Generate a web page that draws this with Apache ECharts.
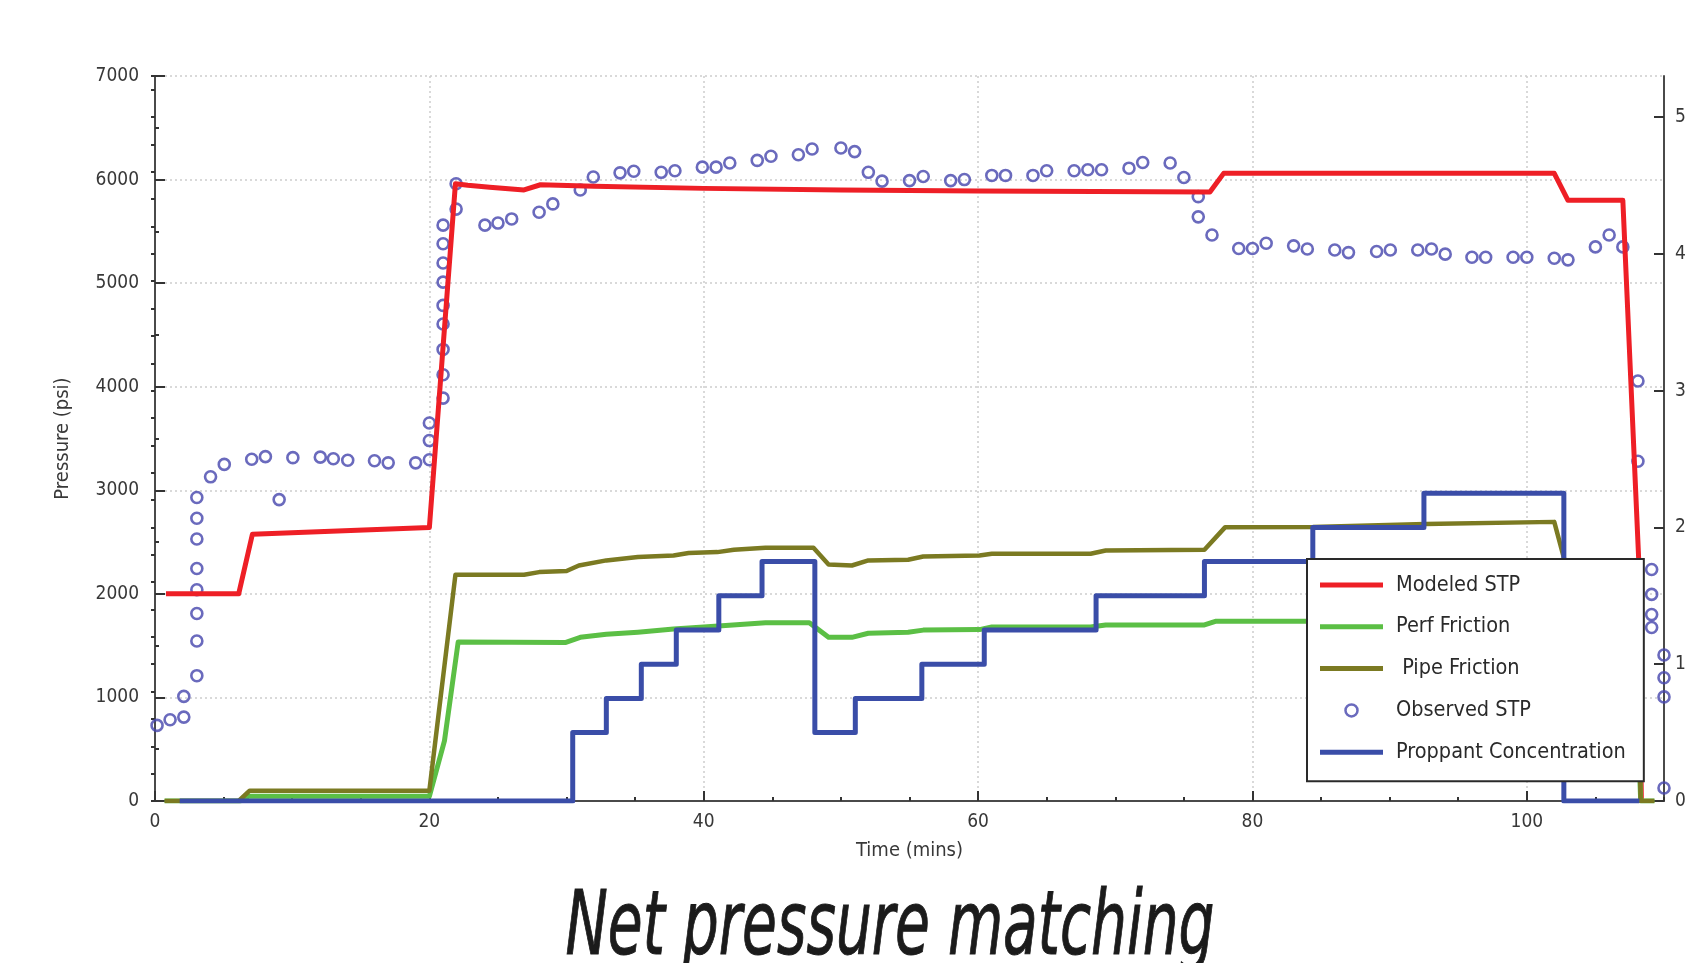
<!DOCTYPE html>
<html>
<head>
<meta charset="utf-8">
<title>Net pressure matching</title>
<script src="https://cdn.jsdelivr.net/npm/echarts@6/dist/echarts.min.js"></script>
<style>
  html, body { margin: 0; padding: 0; background: #ffffff; }
  #chart { width: 1690px; height: 963px; }
</style>
</head>
<body>
<div id="chart"></div>
<script>
// ---- Data -----------------------------------------------------------------
// Modeled surface treating pressure (psi) vs time (mins)
const modeledTime = [0.8, 6.1, 7.1, 20.0, 21.9, 22.8, 24.4, 26.9, 28.1, 32.0, 40.0, 50.0, 60.0, 76.9, 77.9, 102.0, 103.0, 107.0, 108.15, 108.35];
const modeledPsi  = [2000, 2000, 2575, 2640, 5960, 5945, 5925, 5900, 5950, 5935, 5915, 5900, 5890, 5880, 6060, 6060, 5800, 5800, 2350, 0];

// Perforation friction (psi)
const perfTime = [0.7, 6.2, 6.8, 20.0, 21.1, 22.1, 29.9, 31.0, 32.9, 35.2, 37.8, 40.0, 41.6, 44.5, 47.7, 49.1, 50.8, 52.0, 54.9, 56.0, 60.1, 61.0, 68.2, 69.3, 76.5, 77.3, 102.2, 103.0, 107.9, 108.3, 109.3];
const perfPsi  = [0, 0, 45, 45, 580, 1535, 1530, 1580, 1610, 1630, 1660, 1680, 1695, 1720, 1720, 1580, 1580, 1620, 1630, 1650, 1655, 1680, 1680, 1700, 1700, 1735, 1735, 1450, 1450, 0, 0];

// Pipe friction (psi)
const pipeTime = [0.7, 6.1, 6.9, 20.0, 21.9, 26.9, 28.0, 30.0, 30.9, 32.9, 35.2, 37.8, 38.9, 41.0, 42.2, 44.5, 48.0, 49.1, 50.8, 52.0, 54.9, 56.0, 60.1, 61.0, 68.2, 69.3, 76.5, 78.0, 84.4, 92.6, 102.0, 103.0, 107.9, 108.3, 109.3];
const pipePsi  = [0, 0, 100, 100, 2185, 2185, 2210, 2220, 2274, 2323, 2355, 2371, 2394, 2403, 2426, 2445, 2445, 2284, 2274, 2323, 2329, 2361, 2371, 2387, 2387, 2419, 2425, 2642, 2645, 2674, 2695, 2200, 2200, 0, 0];

// Observed surface treating pressure (psi)
const observedTime = [
  0.15, 1.1, 2.1, 2.1, 3.05, 3.05, 3.05, 3.05, 3.05, 3.05, 3.05, 3.05, 4.05, 5.05, 7.05, 8.05, 9.05, 10.05, 12.05, 13.0,
  14.05, 16.0, 17.0, 19.0, 20.0, 20.0, 20.0, 21.0, 21.0, 21.0, 21.0, 21.0, 21.0, 21.0, 21.0, 21.0, 21.95, 21.95,
  24.05, 25.0, 26.0, 28.0, 29.0, 31.0, 31.95, 33.9, 34.9, 36.9, 37.9, 39.9, 40.9, 41.9, 43.9, 44.9, 46.9, 47.9,
  50.0, 51.0, 52.0, 53.0, 55.0, 56.0, 58.0, 59.0, 61.0, 62.0, 64.0, 65.0, 67.0, 68.0, 69.0, 71.0, 72.0, 74.0,
  75.0, 76.05, 76.05, 77.05, 79.0, 80.0, 81.0, 83.0, 84.0, 86.0, 87.0, 89.05, 90.05, 92.05, 93.05, 94.05, 96.0, 97.0,
  99.0, 100.0, 102.0, 103.0, 105.0, 106.0, 107.0, 108.1, 108.1, 109.1, 109.1, 109.1, 109.1, 110.0, 110.0, 110.0, 110.0
];
const observedPsi = [
  730, 785, 810, 1010, 1210, 1545, 1810, 2040, 2245, 2530, 2730, 2930, 3130, 3250, 3300, 3325, 2910, 3315, 3320, 3305,
  3290, 3285, 3265, 3265, 3295, 3480, 3650, 3890, 4115, 4360, 4605, 4785, 5010, 5195, 5380, 5560, 5715, 5960,
  5560, 5580, 5620, 5685, 5765, 5900, 6025, 6065, 6080, 6070, 6085, 6120, 6120, 6160, 6185, 6225, 6240, 6295,
  6305, 6270, 6070, 5985, 5990, 6030, 5990, 6000, 6040, 6040, 6040, 6085, 6085, 6095, 6095, 6110, 6165, 6160,
  6020, 5835, 5640, 5465, 5335, 5335, 5385, 5360, 5330, 5320, 5295, 5305, 5320, 5320, 5330, 5280, 5250, 5250,
  5250, 5250, 5240, 5225, 5350, 5465, 5350, 4055, 3280, 2235, 1995, 1800, 1675, 1410, 1190, 1005, 125
];

// Proppant concentration (right axis): each value holds from its time to the next
const proppantTime = [1.8, 30.45, 32.9, 35.45, 38.0, 41.1, 44.25, 48.1, 51.05, 55.9, 60.45, 68.6, 76.5, 84.4, 92.5, 102.7, 108.2];
const proppantConc = [0, 0.5, 0.75, 1.0, 1.25, 1.5, 1.75, 0.5, 0.75, 1.0, 1.25, 1.5, 1.75, 2.0, 2.25, 0, 0];

// Axis ranges and labels
const timeRange = [0, 110];
const pressureRange = [0, 7000];
const concRange = [0, 5.3];
const seriesNames = ['Modeled STP', 'Perf Friction', ' Pipe Friction', 'Observed STP', 'Proppant Concentration'];
const xAxisName = 'Time (mins)';
const yAxisName = 'Pressure (psi)';
const titleText = 'Net pressure matching';

// ---- Styling ----------------------------------------------------------------
const FONT = '"DejaVu Sans Condensed", "DejaVu Sans", sans-serif';
const RED = '#ee1f26';
const GREEN = '#5bbf45';
const OLIVE = '#7b7a22';
const BLUE = '#3a4da8';
const RING = '#4545ac';
const AXIS = '#4a4a4a';
const LABEL = '#383838';
const GRIDLINE = { color: '#cdcdcd', width: 1.5, type: [2, 3] };
const BAR = 'path://M0,0L63,0L63,5L0,5Z';

const zip = (xs, ys) => xs.map((x, i) => [x, ys[i]]);
const plain = (v) => String(v);

// Fit the caption to its width with a horizontal squeeze
const TITLE_SIZE = 89;
const titleFont = 'italic ' + TITLE_SIZE + 'px "DejaVu Sans Condensed"';
const measureCtx = document.createElement('canvas').getContext('2d');
measureCtx.font = titleFont;
const titleScale = 649 / measureCtx.measureText(titleText).width;

const chart = echarts.init(document.getElementById('chart'), null, { renderer: 'canvas' });

const majorTick = { show: true, inside: true, length: 10, lineStyle: { color: '#333', width: 2 } };
const minorTick = { show: true, inside: true, length: 4, lineStyle: { color: '#333', width: 2 } };
const tickLabel = { fontFamily: FONT, fontSize: 19, color: LABEL, formatter: plain };

const option = {
  animation: false,
  backgroundColor: '#ffffff',
  grid: { left: 155, right: 26, top: 76, bottom: 162, containLabel: false, outerBoundsMode: 'none' },
  xAxis: [
    {
      type: 'value', position: 'bottom', min: timeRange[0], max: timeRange[1], interval: 20,
      name: xAxisName, nameLocation: 'middle', nameGap: 40,
      nameTextStyle: { fontFamily: FONT, fontSize: 20, color: LABEL },
      axisLine: { show: true, onZero: false, lineStyle: { color: AXIS, width: 2 } },
      axisTick: majorTick,
      axisLabel: Object.assign({}, tickLabel, { margin: 12, showMaxLabel: false }),
      splitLine: { show: true, lineStyle: GRIDLINE }
    },
    {
      // 5-minute minor ticks
      type: 'value', position: 'bottom', min: timeRange[0], max: timeRange[1], interval: 5,
      axisLine: { show: false }, axisTick: minorTick, axisLabel: { show: false }, splitLine: { show: false }
    }
  ],
  yAxis: [
    {
      type: 'value', position: 'left', min: pressureRange[0], max: pressureRange[1], interval: 1000,
      name: yAxisName, nameLocation: 'middle', nameGap: 82,
      nameTextStyle: { fontFamily: FONT, fontSize: 20, color: LABEL },
      axisLine: { show: true, onZero: false, lineStyle: { color: AXIS, width: 2 } },
      axisTick: majorTick,
      minorTick: { show: true, splitNumber: 2, length: 4, lineStyle: { color: '#333', width: 2 } },
      axisLabel: Object.assign({}, tickLabel, { margin: 16 }),
      splitLine: { show: true, lineStyle: GRIDLINE }
    },
    {
      type: 'value', position: 'right', min: concRange[0], max: concRange[1], interval: 1,
      axisLine: { show: true, onZero: false, lineStyle: { color: AXIS, width: 2 } },
      axisTick: majorTick,
      axisLabel: Object.assign({}, tickLabel, { margin: 11, showMaxLabel: false }),
      splitLine: { show: false }
    },
    {
      // 0.2 minor ticks on the concentration axis
      type: 'value', position: 'right', min: concRange[0], max: concRange[1], interval: 0.2,
      axisLine: { show: false }, axisTick: minorTick, axisLabel: { show: false }, splitLine: { show: false }
    }
  ],
  legend: {
    orient: 'vertical', left: 1307, top: 559,
    backgroundColor: '#ffffff', borderColor: '#2a2a2a', borderWidth: 2, borderRadius: 0,
    padding: [15, 18, 18, 13],
    itemWidth: 63, itemHeight: 12, itemGap: 19.8,
    symbolKeepAspect: true,
    selectedMode: false,
    textStyle: { fontFamily: FONT, fontSize: 21.5, color: '#2a2a2a', lineHeight: 20, padding: [0, 0, 0, 8] },
    itemStyle: { borderWidth: 0 },
    data: [
      { name: seriesNames[0], icon: BAR },
      { name: seriesNames[1], icon: BAR },
      { name: seriesNames[2], icon: BAR },
      { name: seriesNames[3], icon: 'circle', itemStyle: { color: 'rgba(0,0,0,0)', borderColor: RING, borderWidth: 2.5 } },
      { name: seriesNames[4], icon: BAR }
    ]
  },
  graphic: [
    {
      type: 'text', x: 890, y: 931, scaleX: titleScale,
      style: {
        x: 0, y: 0, text: titleText, font: titleFont, fill: '#1b1b1b',
        stroke: '#1b1b1b', lineWidth: 1.0, align: 'center', verticalAlign: 'middle'
      }
    }
  ],
  series: [
    {
      name: seriesNames[0], type: 'line', xAxisIndex: 0, yAxisIndex: 0,
      data: zip(modeledTime, modeledPsi), showSymbol: false, symbol: 'none',
      itemStyle: { color: RED }, lineStyle: { color: RED, width: 5, join: 'round' }
    },
    {
      name: seriesNames[1], type: 'line', xAxisIndex: 0, yAxisIndex: 0,
      data: zip(perfTime, perfPsi), showSymbol: false, symbol: 'none',
      itemStyle: { color: GREEN }, lineStyle: { color: GREEN, width: 5, join: 'round' }
    },
    {
      name: seriesNames[2], type: 'line', xAxisIndex: 0, yAxisIndex: 0,
      data: zip(pipeTime, pipePsi), showSymbol: false, symbol: 'none',
      itemStyle: { color: OLIVE }, lineStyle: { color: OLIVE, width: 4.5, join: 'round' }
    },
    {
      name: seriesNames[3], type: 'scatter', xAxisIndex: 0, yAxisIndex: 0,
      data: zip(observedTime, observedPsi), symbol: 'circle', symbolSize: 11,
      itemStyle: { color: 'rgba(0,0,0,0)', borderColor: RING, borderWidth: 2.6 }
    },
    {
      name: seriesNames[4], type: 'line', xAxisIndex: 0, yAxisIndex: 1, step: 'end',
      data: zip(proppantTime, proppantConc), showSymbol: false, symbol: 'none',
      itemStyle: { color: BLUE }, lineStyle: { color: BLUE, width: 5, join: 'round' }
    }
  ]
};

chart.setOption(option);
</script>
</body>
</html>
